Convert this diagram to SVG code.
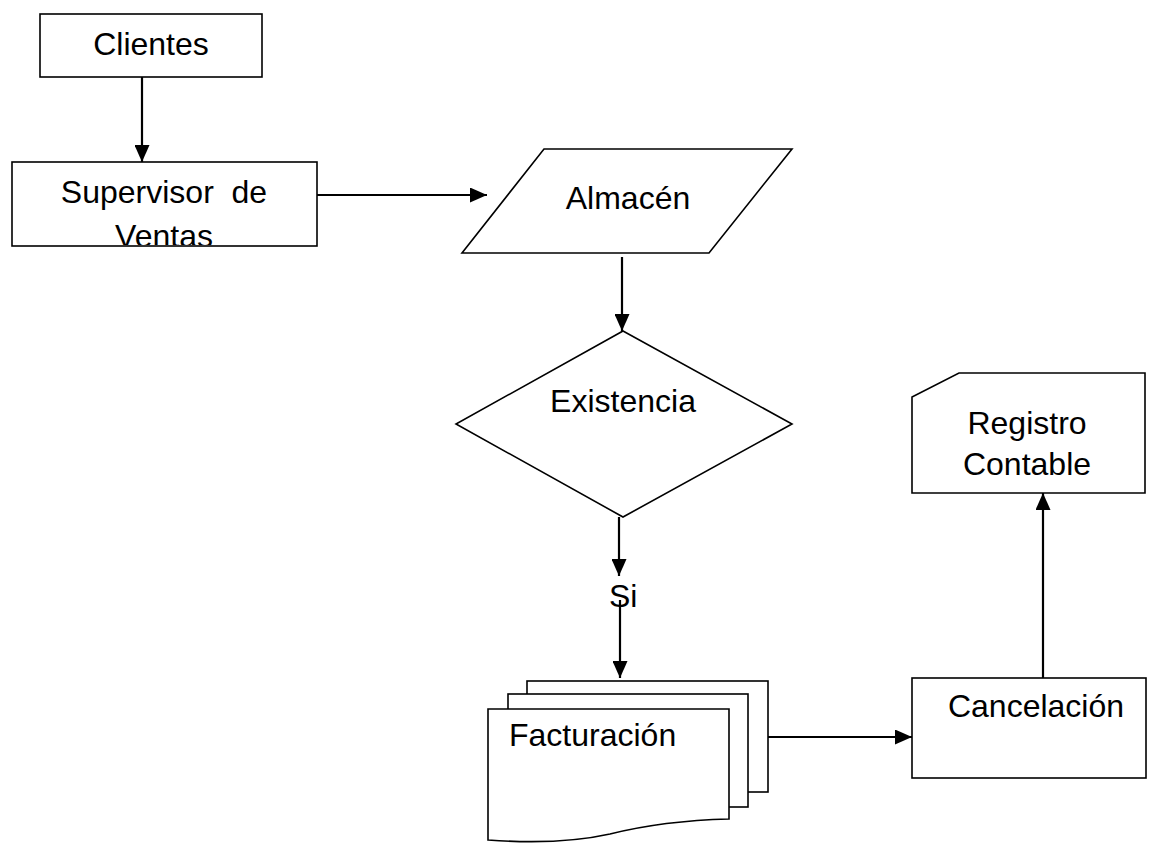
<svg xmlns="http://www.w3.org/2000/svg" width="1149" height="843" viewBox="0 0 1149 843">
<style>
.s{fill:#fff;stroke:#000;stroke-width:1.6}
.c{fill:none;stroke:#000;stroke-width:2.2}
text{font-family:"Liberation Sans",Arial,sans-serif;font-size:32px;fill:#000}
</style>
<defs>
<marker id="a" markerUnits="userSpaceOnUse" markerWidth="17" markerHeight="15" refX="17" refY="7.5" orient="auto">
<path d="M0,0 L17,7.5 L0,15 Z" fill="#000"/>
</marker>
<clipPath id="clipSup"><rect x="12" y="162" width="305" height="83"/></clipPath>
</defs>
<rect width="1149" height="843" fill="#fff"/>
<g id="connectors">
<line class="c" x1="142" y1="77" x2="142" y2="162" marker-end="url(#a)"/>
<line class="c" x1="317" y1="195" x2="487" y2="195" marker-end="url(#a)"/>
<line class="c" x1="622" y1="257" x2="622" y2="331" marker-end="url(#a)"/>
<line class="c" x1="619" y1="517" x2="619" y2="576" marker-end="url(#a)"/>
<line class="c" x1="620" y1="600" x2="620" y2="678" marker-end="url(#a)"/>
<line class="c" x1="768" y1="737" x2="912" y2="737" marker-end="url(#a)"/>
<line class="c" x1="1043" y1="678" x2="1043" y2="493" marker-end="url(#a)"/>
<text x="609" y="607">Si</text>
</g>
<g id="clientes">
<rect class="s" x="40" y="14" width="222" height="63"/>
<text x="151" y="55" text-anchor="middle">Clientes</text>
</g>
<g id="supervisor">
<rect class="s" x="12" y="162" width="305" height="84"/>
<g clip-path="url(#clipSup)">
<text x="164" y="203" text-anchor="middle" xml:space="preserve">Supervisor  de</text>
<text x="164" y="247" text-anchor="middle">Ventas</text>
</g>
</g>
<g id="almacen">
<polygon class="s" points="544,149 792,149 709,253 462,253"/>
<text x="628" y="209" text-anchor="middle">Almacén</text>
</g>
<g id="existencia">
<polygon class="s" points="623,331 792,424 623,517 456,424"/>
<text x="623" y="412" text-anchor="middle">Existencia</text>
</g>
<g id="facturacion">
<rect class="s" x="527" y="681" width="241" height="111"/>
<rect class="s" x="508" y="694" width="240" height="113"/>
<path class="s" d="M488,709 H729 V819 C690,820 650,824 610,834 C570,843 530,843 488,840 Z"/>
<text x="509" y="746">Facturación</text>
</g>
<g id="cancelacion">
<rect class="s" x="912" y="678" width="234" height="100"/>
<text x="1036" y="717" text-anchor="middle">Cancelación</text>
</g>
<g id="registro">
<polygon class="s" points="959,373 1145,373 1145,493 912,493 912,397"/>
<text x="1027" y="434" text-anchor="middle">Registro</text>
<text x="1027" y="475" text-anchor="middle">Contable</text>
</g>
</svg>
